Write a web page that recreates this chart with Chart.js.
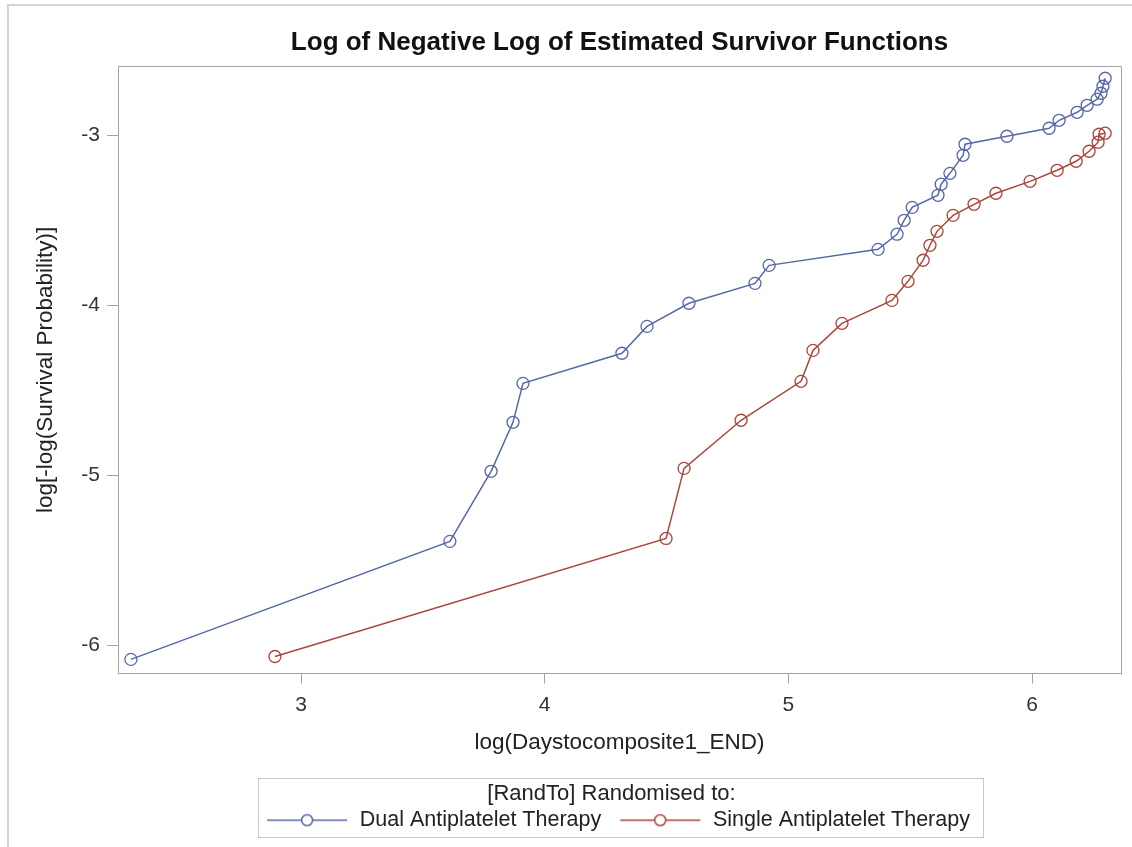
<!DOCTYPE html>
<html><head><meta charset="utf-8">
<script src="https://cdn.jsdelivr.net/npm/chart.js@4/dist/chart.umd.min.js"></script>
<style>html,body{margin:0;padding:0;background:#fff;}#wrap{width:1132px;height:847px;}</style>
</head><body><div id="wrap"><canvas id="c" width="1132" height="847"></canvas></div>
<script>
// ---- data ----
const dualX = [2.302,3.611,3.780,3.870,3.911,4.317,4.420,4.592,4.863,4.921,5.368,5.446,5.475,5.508,5.614,5.627,5.663,5.717,5.725,5.897,6.070,6.111,6.185,6.226,6.267,6.283,6.291,6.300];
const dualY = [-6.082,-5.388,-4.976,-4.688,-4.459,-4.282,-4.124,-3.988,-3.871,-3.765,-3.671,-3.582,-3.500,-3.424,-3.353,-3.288,-3.224,-3.118,-3.053,-3.006,-2.959,-2.912,-2.865,-2.824,-2.788,-2.753,-2.712,-2.665];
const singleX = [2.893,4.498,4.572,4.806,5.052,5.101,5.220,5.425,5.491,5.553,5.581,5.610,5.676,5.762,5.852,5.992,6.103,6.181,6.234,6.271,6.275,6.300];
const singleY = [-6.065,-5.371,-4.959,-4.676,-4.447,-4.265,-4.106,-3.971,-3.859,-3.735,-3.647,-3.565,-3.471,-3.406,-3.341,-3.271,-3.206,-3.153,-3.094,-3.041,-2.994,-2.988];
const seriesNames = ['Dual Antiplatelet Therapy','Single Antiplatelet Therapy'];
const xTicks = [3,4,5,6];
const yTicks = [-6,-5,-4,-3];
const chartTitle = 'Log of Negative Log of Estimated Survivor Functions';
const xTitle = 'log(Daystocomposite1_END)';
const yTitle = 'log[-log(Survival Probability)]';
const legendTitle = '[RandTo] Randomised to:';

const BLUE = '#5768a8';
const RED = '#ab463a';
const FRAME = '#a4a4a4';
const FONT = "'Liberation Sans', Arial, sans-serif";

function legendSymbol(color){
  const cv = document.createElement('canvas');
  cv.width = 96; cv.height = 16;
  const g = cv.getContext('2d');
  g.strokeStyle = color; g.lineWidth = 1.5;
  g.beginPath(); g.moveTo(14,8); g.lineTo(94,8); g.stroke();
  g.fillStyle = '#fff';
  g.beginPath(); g.arc(54,8,5.5,0,Math.PI*2); g.fill(); g.stroke();
  return cv;
}
const symbols = [legendSymbol(BLUE), legendSymbol(RED)];

const toPts = (xs, ys) => xs.map((x,i)=>({x:x, y:ys[i]}));

const framePlugin = {
  id:'frame',
  afterLayout(chart){
    const lg = chart.legend;
    if (lg){ lg.left -= 8; lg.right -= 8; }
  },
  beforeDraw(chart){
    const ctx = chart.ctx;
    ctx.save();
    ctx.strokeStyle = '#d4d4d4'; ctx.lineWidth = 2;
    ctx.beginPath(); ctx.moveTo(8, 847); ctx.lineTo(8, 5); ctx.lineTo(1132, 5); ctx.stroke();
    ctx.restore();
  },
  afterDraw(chart){
    const ctx = chart.ctx, a = chart.chartArea;
    ctx.save();
    ctx.strokeStyle = FRAME; ctx.lineWidth = 1;
    ctx.beginPath();
    ctx.moveTo(Math.round(a.left)+0.5, Math.round(a.top)+0.5);
    ctx.lineTo(Math.round(a.right)+0.5, Math.round(a.top)+0.5);
    ctx.lineTo(Math.round(a.right)+0.5, Math.round(a.bottom)+0.5);
    ctx.stroke();
    // legend box
    const lg = chart.legend;
    if (lg && lg.legendHitBoxes && lg.legendHitBoxes.length){
      const hb = lg.legendHitBoxes;
      let l = Infinity, r = -Infinity, t = Infinity, b = -Infinity;
      hb.forEach(h=>{ l=Math.min(l,h.left); r=Math.max(r,h.left+h.width); t=Math.min(t,h.top); b=Math.max(b,h.top+h.height); });
      const boxL = Math.round(l + 14 - 9) + 0.5;
      const boxR = Math.round(r + 13) + 0.5;
      const boxT = Math.round(t - 32) + 0.5;
      const boxB = Math.round(b + 6) + 0.5;
      ctx.strokeStyle = '#c8c8c8';
      ctx.strokeRect(boxL, boxT, boxR - boxL, boxB - boxT);
    }
    ctx.restore();
  }
};

new Chart(document.getElementById('c'), {
  type:'scatter',
  data:{
    datasets:[
      {label:seriesNames[0], data:toPts(dualX,dualY), showLine:true, borderColor:BLUE, backgroundColor:'rgba(0,0,0,0)', borderWidth:1.5, pointRadius:6, pointBorderWidth:1.3, pointBorderColor:BLUE, pointBackgroundColor:'rgba(0,0,0,0)', tension:0},
      {label:seriesNames[1], data:toPts(singleX,singleY), showLine:true, borderColor:RED, backgroundColor:'rgba(0,0,0,0)', borderWidth:1.5, pointRadius:6, pointBorderWidth:1.3, pointBorderColor:RED, pointBackgroundColor:'rgba(0,0,0,0)', tension:0}
    ]
  },
  options:{
    responsive:false,
    animation:false,
    layout:{padding:{left:0,right:11,top:0,bottom:6}},
    plugins:{
      tooltip:{enabled:false},
      title:{display:true, text:chartTitle, fullSize:false, color:'#111', font:{family:FONT, size:26, weight:'bold', lineHeight:1.2}, padding:{top:27,bottom:8}},
      legend:{
        display:true, position:'bottom', fullSize:false,
        title:{display:true, text:legendTitle, color:'#222', font:{family:FONT, size:22, lineHeight:1.0}, padding:{top:4,bottom:0}},
        labels:{
          usePointStyle:true, pointStyleWidth:96, padding:5, color:'#222', font:{family:FONT, size:21.5},
          generateLabels(chart){
            return chart.data.datasets.map((d,i)=>({text:d.label, pointStyle:symbols[i], fillStyle:'#fff', strokeStyle:d.borderColor, lineWidth:0, hidden:false, datasetIndex:i, fontColor:'#222'}));
          }
        }
      }
    },
    scales:{
      x:{
        type:'linear', min:2.249, max:6.365,
        afterBuildTicks(s){ s.ticks = xTicks.map(v=>({value:v})); },
        afterFit(s){ s.height = 105; },
        grid:{display:true, drawOnChartArea:false, drawTicks:true, tickLength:10, color:FRAME},
        border:{display:true, color:FRAME, width:1},
        ticks:{color:'#333', font:{family:FONT, size:21}, padding:9, maxRotation:0},
        title:{display:true, text:xTitle, color:'#222', font:{family:FONT, size:22.5}, padding:{top:0,bottom:22}}
      },
      y:{
        type:'linear', min:-6.165, max:-2.594,
        afterBuildTicks(s){ s.ticks = yTicks.map(v=>({value:v})); },
        afterFit(s){ s.width = 118; },
        grid:{display:true, drawOnChartArea:false, drawTicks:true, tickLength:11, color:FRAME},
        border:{display:true, color:FRAME, width:1},
        ticks:{color:'#333', font:{family:FONT, size:21}, padding:7},
        title:{display:true, text:yTitle, color:'#222', font:{family:FONT, size:22.5}, padding:{top:32,bottom:0}}
      }
    }
  },
  plugins:[framePlugin]
});
</script></body></html>
